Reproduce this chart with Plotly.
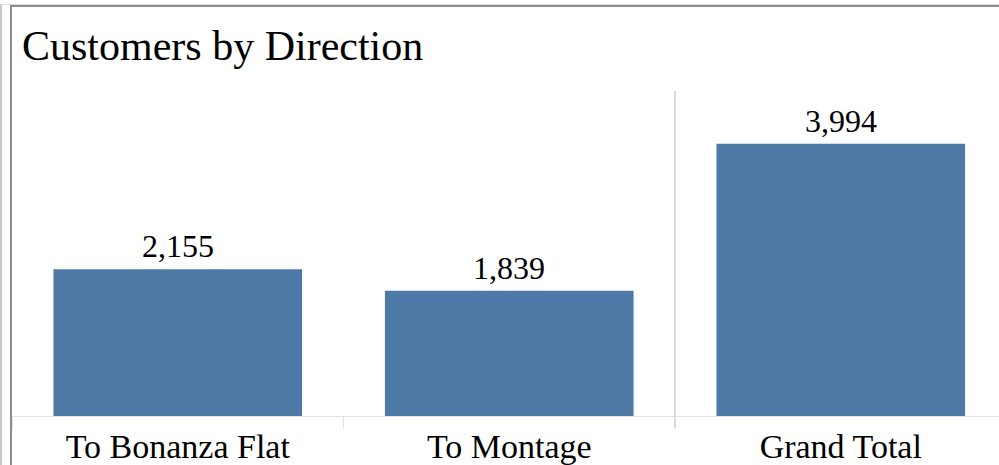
import plotly.graph_objects as go

categories = ["To Bonanza Flat", "To Montage", "Grand Total"]
values = [2155, 1839, 3994]
value_labels = ["2,155", "1,839", "3,994"]
title_text = "Customers by Direction"

W, H = 999, 465
ML, MT, MB, MR = 12, 91, 47, 0
PW = W - ML - MR
PH = H - MT - MB
CAT_PX = 331.5
FONT = "Liberation Serif, Times New Roman, serif"

fig = go.Figure()
fig.add_trace(go.Bar(
    x=categories, y=values,
    marker=dict(color="#4e79a7", line=dict(width=0)),
    width=0.75, cliponaxis=False, hoverinfo="skip",
))

annotations = [
    dict(x=c, y=v, text=t, xref="x", yref="y", showarrow=False,
         xanchor="center", yanchor="bottom", yshift=3,
         font=dict(family=FONT, size=32, color="#000000"))
    for c, v, t in zip(categories, values, value_labels)
]

def px_to_paper_x(px):
    return (px - ML) / PW

def px_to_paper_y(py):
    return (H - MB - py) / PH

shapes = [
    # separator before Grand Total
    dict(type="line", xref="x", yref="paper", x0=1.5, x1=1.5,
         y0=px_to_paper_y(430), y1=1, line=dict(color="#d9d9d9", width=2)),
    # outer frame (dark grey)
    dict(type="line", xref="paper", yref="paper",
         x0=px_to_paper_x(11), x1=px_to_paper_x(11),
         y0=px_to_paper_y(H + 5), y1=px_to_paper_y(5),
         line=dict(color="#8c8c8c", width=2)),
    dict(type="line", xref="paper", yref="paper",
         x0=px_to_paper_x(10), x1=px_to_paper_x(W + 5),
         y0=px_to_paper_y(5.5), y1=px_to_paper_y(5.5),
         line=dict(color="#8c8c8c", width=2)),
    dict(type="line", xref="paper", yref="paper",
         x0=px_to_paper_x(0), x1=px_to_paper_x(W + 5),
         y0=px_to_paper_y(4), y1=px_to_paper_y(4),
         line=dict(color="#dcdcdc", width=1)),
    dict(type="line", xref="paper", yref="paper",
         x0=px_to_paper_x(1), x1=px_to_paper_x(1),
         y0=px_to_paper_y(H + 5), y1=px_to_paper_y(4),
         line=dict(color="#c8c8c8", width=2)),
]

fig.update_layout(
    width=W, height=H,
    margin=dict(l=ML, r=MR, t=MT, b=MB, pad=0),
    paper_bgcolor="white", plot_bgcolor="white",
    showlegend=False,
    title=dict(text=title_text, font=dict(family=FONT, size=42, color="#000000"),
               x=22 / W, xanchor="left", xref="container",
               y=1 - 45 / H, yanchor="middle", yref="container"),
    xaxis=dict(type="category", range=[-0.5, -0.5 + PW / CAT_PX],
               showgrid=False, showline=True, linecolor="#e3e3e3", linewidth=1,
               ticks="outside", tickson="boundaries", ticklen=12,
               tickcolor="#e3e3e3", tickwidth=1,
               tickfont=dict(family=FONT, size=34, color="#000000"),
               fixedrange=True),
    yaxis=dict(range=[0, 4770], visible=False, showgrid=False, zeroline=False,
               fixedrange=True),
    shapes=shapes,
    annotations=annotations,
    bargap=0.25,
)

fig.write_html(
    "out.html",
    config={"displayModeBar": False},
    post_script="document.body.style.margin='0';document.body.style.overflow='hidden';",
)
